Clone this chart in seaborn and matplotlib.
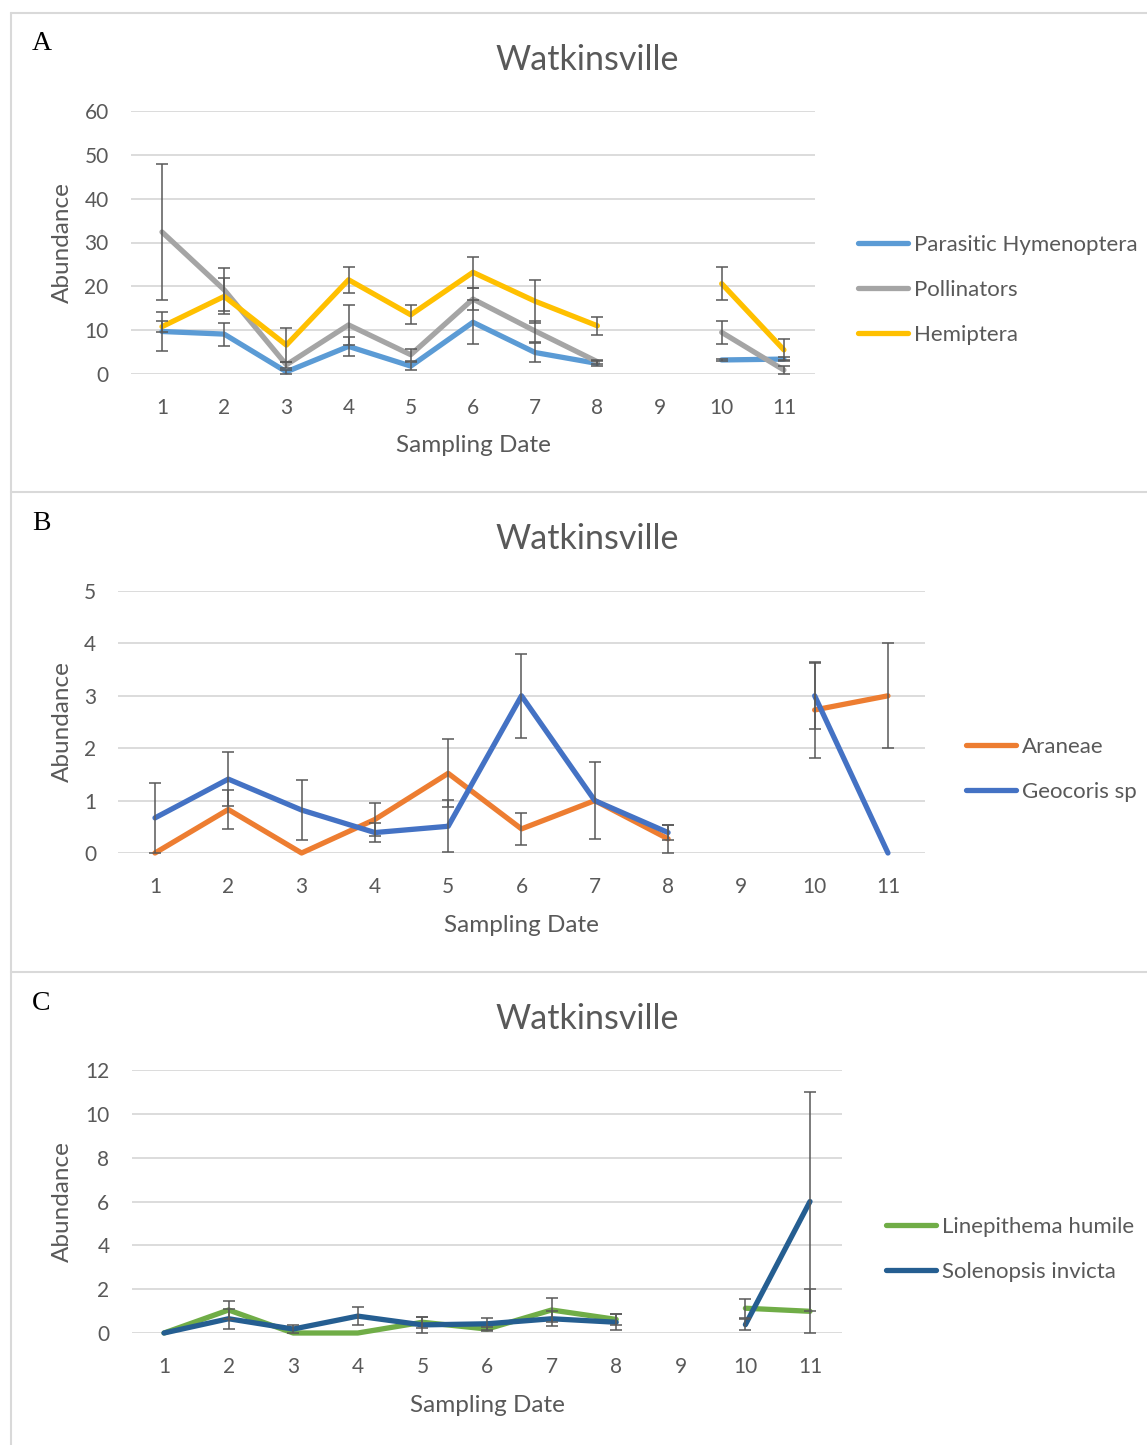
import numpy as np
import pandas as pd
import matplotlib
matplotlib.use("Agg")
import matplotlib.pyplot as plt
import seaborn as sns
from matplotlib.lines import Line2D

nan = np.nan
dates = [1, 2, 3, 4, 5, 6, 7, 8, 9, 10, 11]

# Panel A
parasitic = [9.7, 9.1, 0.5, 6.3, 1.8, 11.8, 4.9, 2.4, nan, 3.2, 3.4]
parasitic_err = [4.4, 2.6, 0.4, 2.2, 0.9, 5.0, 2.1, 0.5, nan, 0.3, 0.5]
pollinators = [32.4, 19.2, 2.1, 11.2, 4.4, 17.1, 9.8, 2.8, nan, 9.5, 0.9]
pollinators_err = [15.6, 4.9, 0.7, 4.6, 1.4, 2.6, 2.4, 0.5, nan, 2.6, 0.9]
hemiptera = [10.8, 17.7, 6.6, 21.5, 13.5, 23.2, 16.6, 11.0, nan, 20.6, 5.5]
hemiptera_err = [1.3, 4.1, 3.9, 3.0, 2.2, 3.5, 4.9, 2.1, nan, 3.8, 2.4]

# Panel B
araneae = [0, 0.83, 0, 0.64, 1.52, 0.46, 1.0, 0.27, nan, 2.73, 3.0]
araneae_err = [0, 0.38, 0, 0.32, 0.65, 0.3, 0.0, 0.27, nan, 0.92, 1.0]
geocoris = [0.67, 1.41, 0.82, 0.39, 0.51, 3.0, 1.0, 0.39, nan, 3.0, 0]
geocoris_err = [0.67, 0.51, 0.57, 0.18, 0.5, 0.8, 0.74, 0.15, nan, 0.63, 0]

# Panel C
linepithema = [0, 1.05, 0, 0, 0.49, 0.18, 1.05, 0.62, nan, 1.13, 0.99]
linepithema_err = [0, 0.4, 0, 0, 0.25, 0.1, 0.53, 0.25, nan, 0.44, 1.0]
solenopsis = [0, 0.65, 0.18, 0.77, 0.37, 0.42, 0.65, 0.49, nan, 0.38, 6.0]
solenopsis_err = [0, 0.45, 0.2, 0.42, 0.35, 0.27, 0.34, 0.37, nan, 0.26, 5.0]

sns.set_theme(style="white")
plt.rcParams['font.family'] = ['Lato', 'DejaVu Sans']

W, H = 1147, 1445
fig = plt.figure(figsize=(W / 100, H / 100), dpi=100)

GRID = '#D9D9D9'
TXT = '#595959'
ERR = '#595959'
LW = 3.8


def ax_px(l, r, t, b):
    return fig.add_axes([l / W, 1 - b / H, (r - l) / W, (b - t) / H])


def panel(ax, series, ymax, ystep, title_y, letter, letter_y, leg_x, leg_y, xlab_y, ylab_y):
    rows = []
    for name, vals, errs, color in series:
        for d, v, e in zip(dates, vals, errs):
            if np.isnan(v):
                continue
            rows.append(dict(date=d, value=v, err=e, series=name, seg=0 if d < 9 else 1))
    df = pd.DataFrame(rows)
    names = [s[0] for s in series]
    palette = {s[0]: s[3] for s in series}
    sns.lineplot(data=df, x='date', y='value', hue='series', units='seg', estimator=None,
                 hue_order=names, palette=palette, linewidth=LW, legend=False, ax=ax)
    for line in ax.lines:
        line.set_clip_on(False)
        line.set_solid_capstyle('round')
        line.set_solid_joinstyle('round')
    for name in names:
        sub = df[(df.series == name) & (df.err > 0)]
        cont = ax.errorbar(sub.date, sub.value, yerr=sub.err, fmt='none', ecolor=ERR,
                           elinewidth=1.1, capsize=4.3, capthick=1.1, zorder=3)
        for ch in cont.get_children():
            ch.set_clip_on(False)
    ax.set_xlim(0.5, 11.5)
    ax.set_ylim(0, ymax)
    ax.set_xticks(dates)
    ax.set_yticks(np.arange(0, ymax + ystep / 2, ystep))
    ax.grid(axis='y', color=GRID, lw=1.3)
    ax.grid(axis='x', visible=False)
    ax.set_axisbelow(True)
    for s in ax.spines.values():
        s.set_visible(False)
    ax.tick_params(length=0, labelsize=15, labelcolor=TXT)
    ax.tick_params(axis='y', pad=16)
    ax.tick_params(axis='x', pad=17.5)
    ax.set_xlabel('Sampling Date', fontsize=17.5, color=TXT)
    ax.set_ylabel('Abundance', fontsize=17.5, color=TXT)
    ax.xaxis.label.set_va('center')
    ax.yaxis.label.set_va('center')
    pos = ax.get_position()
    ax.xaxis.set_label_coords(pos.x0 + pos.width / 2, 1 - xlab_y / H, transform=fig.transFigure)
    ax.yaxis.set_label_coords(62 / W, 1 - ylab_y / H, transform=fig.transFigure)

    handles = [Line2D([], [], color=s[3], lw=LW, solid_capstyle='round') for s in series]
    leg = ax.legend(handles, names, loc='center left', bbox_to_anchor=(leg_x / W, 1 - leg_y / H),
                    bbox_transform=fig.transFigure, frameon=False, borderpad=0, borderaxespad=0,
                    handlelength=2.25, handletextpad=0.27, labelspacing=1.12, fontsize=16)
    for t in leg.get_texts():
        t.set_color(TXT)

    fig.text(587 / W, 1 - title_y / H, 'Watkinsville', ha='center', va='center',
             fontsize=24.5, color=TXT)
    fig.text(32 / W, 1 - letter_y / H, letter, ha='left', va='center',
             fontsize=20, color='black', family=['Liberation Serif', 'DejaVu Serif'])


axA = ax_px(130.9, 815.0, 111, 374)
panel(axA, [('Parasitic Hymenoptera', parasitic, parasitic_err, '#5B9BD5'),
            ('Pollinators', pollinators, pollinators_err, '#A5A5A5'),
            ('Hemiptera', hemiptera, hemiptera_err, '#FFC000')],
      60, 10, 60, 'A', 44, 858, 290, 445, 243)

axB = ax_px(118.35, 924.6, 591, 853)
panel(axB, [('Araneae', araneae, araneae_err, '#ED7D31'),
            ('Geocoris sp', geocoris, geocoris_err, '#4472C4')],
      5, 1, 539, 'B', 523, 966, 769.5, 925, 722)

axC = ax_px(131.7, 842.3, 1070, 1333)
panel(axC, [('Linepithema humile', linepithema, linepithema_err, '#70AD47'),
            ('Solenopsis invicta', solenopsis, solenopsis_err, '#255E91')],
      12, 2, 1019, 'C', 1003, 886, 1249.5, 1405, 1202)

# panel frames
fig.add_artist(Line2D([11 / W, 11 / W], [0, 1 - 13 / H], transform=fig.transFigure, color=GRID, lw=1.5))
for yy in [13, 492, 972]:
    fig.add_artist(Line2D([11 / W, 1], [1 - yy / H, 1 - yy / H], transform=fig.transFigure,
                          color=GRID, lw=1.5))

fig.savefig('out.png', dpi=100)
